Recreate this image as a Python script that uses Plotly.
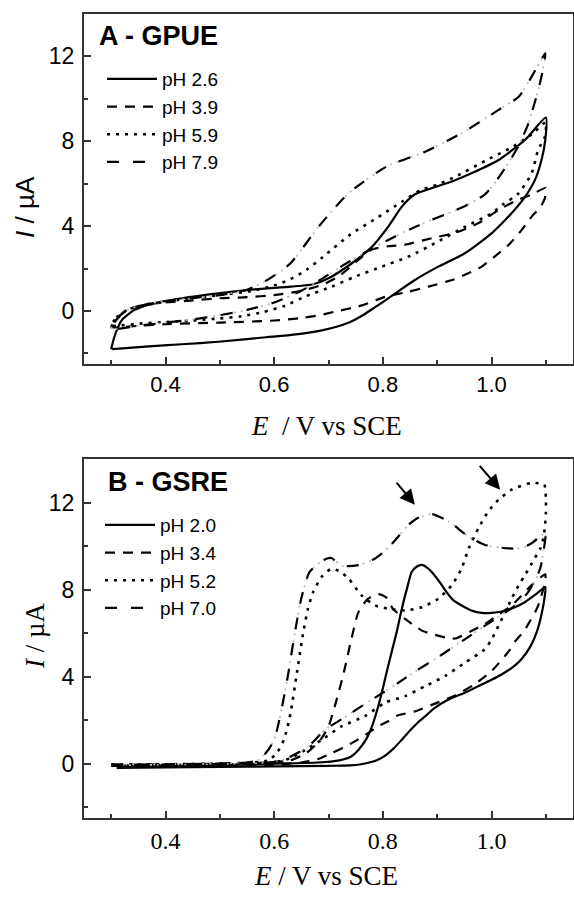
import plotly.graph_objects as go

# ---------------- Panel A - GPUE (E in V vs SCE, I in uA) ----------------
a_labels = ["pH 2.6", "pH 3.9", "pH 5.9", "pH 7.9"]

a26_E = [0.300, 0.305, 0.312, 0.320, 0.343, 0.377, 0.430, 0.497, 0.564, 0.631, 0.672, 0.700, 0.743, 0.780, 0.810, 0.835, 0.859, 0.890, 0.927, 0.964, 1.013, 1.062, 1.100,
         1.099, 1.092, 1.080, 1.062, 1.037, 1.000, 0.951, 0.902, 0.859, 0.823, 0.800, 0.780, 0.760, 0.740, 0.718, 0.690, 0.631, 0.564, 0.497, 0.430, 0.363, 0.302]
a26_I = [-1.80, -1.30, -0.80, -0.42, 0.05, 0.36, 0.60, 0.83, 1.02, 1.15, 1.26, 1.54, 2.25, 3.03, 3.98, 4.92, 5.50, 5.79, 6.10, 6.50, 7.12, 8.07, 9.12,
         8.07, 7.12, 6.18, 5.39, 4.61, 3.66, 2.72, 2.09, 1.46, 0.83, 0.42, 0.08, -0.25, -0.52, -0.72, -0.90, -1.13, -1.29, -1.45, -1.57, -1.68, -1.80]

a39_E = [0.300, 0.310, 0.325, 0.360, 0.400, 0.450, 0.500, 0.550, 0.600, 0.650, 0.690, 0.720, 0.750, 0.780, 0.810, 0.840, 0.890, 0.935, 0.976, 1.013, 1.045, 1.075, 1.100,
         1.098, 1.090, 1.074, 1.055, 1.031, 1.005, 0.982, 0.955, 0.930, 0.884, 0.846, 0.806, 0.760, 0.712, 0.685, 0.645, 0.600, 0.500, 0.400, 0.350, 0.310, 0.300]
a39_I = [-0.75, -0.40, 0.00, 0.30, 0.40, 0.50, 0.60, 0.65, 0.75, 0.95, 1.25, 1.65, 2.30, 2.90, 3.05, 3.12, 3.43, 3.70, 4.14, 4.76, 5.20, 5.50, 5.80,
         5.30, 4.90, 4.45, 3.80, 3.10, 2.55, 2.09, 1.75, 1.48, 1.15, 0.90, 0.68, 0.25, -0.03, -0.19, -0.35, -0.45, -0.55, -0.62, -0.70, -0.78, -0.75]

a59_E = [0.300, 0.310, 0.330, 0.370, 0.430, 0.500, 0.560, 0.600, 0.630, 0.660, 0.690, 0.740, 0.790, 0.835, 0.870, 0.900, 0.935, 0.990, 1.040, 1.075, 1.100,
         1.098, 1.086, 1.074, 1.050, 1.020, 1.000, 0.952, 0.900, 0.847, 0.798, 0.749, 0.706, 0.657, 0.620, 0.580, 0.540, 0.500, 0.450, 0.400, 0.350, 0.310, 0.300]
a59_I = [-0.70, -0.30, 0.05, 0.30, 0.55, 0.75, 0.95, 1.20, 1.50, 1.95, 2.55, 3.60, 4.40, 5.15, 5.70, 5.95, 6.35, 7.10, 7.75, 8.35, 8.90,
         8.20, 7.60, 6.50, 5.55, 5.00, 4.60, 3.98, 3.25, 2.56, 2.09, 1.62, 1.15, 0.68, 0.25, -0.05, -0.25, -0.35, -0.45, -0.52, -0.60, -0.70, -0.70]

a79_E = [0.300, 0.310, 0.330, 0.370, 0.430, 0.500, 0.550, 0.590, 0.630, 0.682, 0.737, 0.807, 0.878, 0.945, 1.013, 1.050, 1.074, 1.099,
         1.094, 1.086, 1.068, 1.050, 1.031, 1.005, 0.988, 0.963, 0.930, 0.890, 0.850, 0.810, 0.770, 0.730, 0.690, 0.650, 0.600, 0.550, 0.500, 0.450, 0.400, 0.350, 0.310, 0.300]
a79_I = [-0.85, -0.40, 0.05, 0.35, 0.55, 0.75, 1.00, 1.50, 2.25, 3.98, 5.55, 6.81, 7.51, 8.38, 9.48, 10.10, 11.05, 12.15,
         11.30, 10.42, 8.85, 7.80, 6.97, 6.00, 5.50, 5.10, 4.70, 4.30, 3.85, 3.35, 2.80, 2.20, 1.55, 0.95, 0.40, 0.05, -0.20, -0.40, -0.55, -0.70, -0.85, -0.85]

# ---------------- Panel B - GSRE ----------------
b_labels = ["pH 2.0", "pH 3.4", "pH 5.2", "pH 7.0"]

b20_E = [0.300, 0.400, 0.500, 0.600, 0.680, 0.720, 0.740, 0.755, 0.770, 0.780, 0.790, 0.798, 0.807, 0.816, 0.826, 0.835, 0.845, 0.853, 0.862, 0.872,
         0.882, 0.890, 0.906, 0.915, 0.930, 0.945, 0.965, 0.982, 1.000, 1.019, 1.040, 1.062, 1.080, 1.099,
         1.098, 1.092, 1.084, 1.072, 1.055, 1.040, 1.020, 1.000, 0.975, 0.950, 0.930, 0.910, 0.895, 0.880, 0.865, 0.850, 0.835, 0.820, 0.805, 0.790,
         0.775, 0.760, 0.740, 0.700, 0.600, 0.500, 0.400, 0.310]
b20_I = [-0.10, -0.08, -0.05, 0.00, 0.05, 0.15, 0.30, 0.63, 1.15, 1.71, 2.50, 3.26, 4.20, 5.11, 6.10, 7.12, 8.10, 8.81, 9.05, 9.13,
         9.00, 8.81, 8.30, 7.96, 7.50, 7.27, 7.02, 6.93, 6.93, 6.99, 7.15, 7.43, 7.75, 8.12,
         7.70, 6.85, 6.10, 5.40, 4.80, 4.45, 4.12, 3.85, 3.55, 3.25, 3.05, 2.80, 2.55, 2.22, 1.90, 1.52, 1.10, 0.70, 0.38, 0.17,
         0.05, -0.03, -0.08, -0.10, -0.13, -0.15, -0.18, -0.20]

b34_E = [0.300, 0.400, 0.500, 0.580, 0.630, 0.660, 0.685, 0.700, 0.715, 0.728, 0.742, 0.755, 0.772, 0.792, 0.806, 0.819, 0.841, 0.873, 0.915, 0.933,
         0.964, 0.988, 1.010, 1.037, 1.074, 1.099,
         1.098, 1.085, 1.072, 1.060, 1.043, 1.033, 1.000, 0.966, 0.930, 0.890, 0.859, 0.826, 0.810, 0.790, 0.770, 0.740, 0.706, 0.680, 0.650, 0.620,
         0.600, 0.500, 0.400, 0.310]
b34_I = [-0.05, -0.03, 0.00, 0.05, 0.15, 0.50, 1.09, 1.71, 2.94, 4.17, 5.71, 6.95, 7.56, 7.79, 7.64, 7.10, 6.65, 6.10, 5.80, 5.75,
         6.11, 6.42, 6.80, 7.27, 8.20, 8.70,
         8.30, 7.20, 6.60, 6.10, 5.60, 5.20, 4.25, 3.60, 3.10, 2.70, 2.40, 2.20, 1.95, 1.70, 1.35, 0.90, 0.48, 0.20, 0.05, -0.02,
         -0.05, -0.07, -0.09, -0.10]

b52_E = [0.300, 0.400, 0.500, 0.560, 0.590, 0.605, 0.618, 0.630, 0.642, 0.652, 0.662, 0.672, 0.688, 0.705, 0.720, 0.737, 0.761, 0.786, 0.810, 0.841,
         0.872, 0.902, 0.927, 0.945, 0.958, 0.976, 0.994, 1.013, 1.037, 1.074, 1.097, 1.100,
         1.100, 1.098, 1.095, 1.090, 1.074, 1.060, 1.050, 1.037, 1.020, 1.000, 0.988, 0.952, 0.915, 0.878, 0.841, 0.804, 0.767, 0.724, 0.688, 0.657,
         0.630, 0.600, 0.560, 0.500, 0.400, 0.310]
b52_I = [-0.05, -0.03, 0.00, 0.05, 0.15, 0.50, 1.10, 2.30, 4.20, 5.80, 7.10, 7.90, 8.60, 8.95, 8.85, 8.50, 7.73, 7.27, 7.12, 7.04,
         7.19, 7.58, 8.20, 8.97, 9.89, 10.82, 11.59, 12.13, 12.59, 12.90, 12.82, 12.20,
         11.50, 10.80, 10.30, 9.90, 9.20, 8.60, 8.20, 7.58, 6.70, 5.70, 5.26, 4.65, 4.03, 3.56, 3.10, 2.80, 2.18, 1.71, 1.10, 0.63,
         0.25, 0.05, -0.02, -0.05, -0.07, -0.10]

b70_E = [0.300, 0.400, 0.500, 0.550, 0.570, 0.585, 0.600, 0.612, 0.625, 0.638, 0.650, 0.665, 0.690, 0.705, 0.724, 0.755, 0.786, 0.805, 0.823, 0.847,
         0.866, 0.890, 0.921, 0.958, 0.988, 1.031, 1.055, 1.075, 1.099,
         1.096, 1.090, 1.080, 1.065, 1.040, 1.010, 0.988, 0.950, 0.920, 0.896, 0.860, 0.829, 0.795, 0.761, 0.728, 0.694, 0.663, 0.640, 0.620, 0.600,
         0.570, 0.500, 0.400, 0.310]
b70_I = [-0.05, -0.03, 0.00, 0.05, 0.15, 0.50, 1.09, 2.30, 4.00, 6.00, 7.60, 8.80, 9.35, 9.45, 9.10, 9.12, 9.43, 9.80, 10.28, 10.97,
         11.31, 11.47, 11.13, 10.43, 10.05, 9.89, 9.90, 10.15, 10.60,
         9.80, 9.00, 8.40, 7.80, 7.20, 6.70, 6.34, 5.70, 5.20, 4.80, 4.25, 3.72, 3.18, 2.64, 2.10, 1.56, 0.79, 0.45, 0.20, 0.08,
         0.02, -0.02, -0.05, -0.08]

# arrows in panel B: (tail E, tail I, head E, head I)
arrow_tail_E = [0.823, 0.976]
arrow_tail_I = [12.98, 13.75]
arrow_head_E = [0.859, 1.016]
arrow_head_I = [11.90, 12.59]

W, H = 574, 897


def py(p):
    return 1 - p / H


def pxx(p):
    return p / W


SANS = "Liberation Sans, Arial, sans-serif"
SERIF = "Liberation Serif, Times New Roman, serif"

dash_styles = ["solid", "10px,8px", "3px,6px", "12px,14px"]
widths = [2.2, 2.2, 2.6, 2.2]

fig = go.Figure()

panels = [
    ("x", "y", "legend", a_labels, [(a26_E, a26_I), (a39_E, a39_I), (a59_E, a59_I), (a79_E, a79_I)]),
    ("x2", "y2", "legend2", b_labels, [(b20_E, b20_I), (b34_E, b34_I), (b52_E, b52_I), (b70_E, b70_I)]),
]

for xa, ya, leg, labels, series in panels:
    for k, (E, I) in enumerate(series):
        assert len(E) == len(I), (labels[k], len(E), len(I))
        if k == 3:
            # faint dots of the dash-dot-dot pattern
            fig.add_trace(go.Scatter(x=E, y=I, xaxis=xa, yaxis=ya, mode="lines",
                                     line=dict(color="#b5b5b5", width=1.6, dash="2px,5px",
                                               shape="spline", smoothing=0.6),
                                     showlegend=False, hoverinfo="skip"))
        fig.add_trace(go.Scatter(x=E, y=I, xaxis=xa, yaxis=ya, mode="lines", name=labels[k],
                                 legend=leg,
                                 line=dict(color="black", width=widths[k], dash=dash_styles[k],
                                           shape="spline", smoothing=0.6)))

axis_common = dict(showline=True, mirror=True, linecolor="#333333", linewidth=2,
                   showgrid=False, zeroline=False, ticks="inside", tickcolor="#333333",
                   tickwidth=1.5, ticklen=7)

xcommon = dict(axis_common, range=[0.25, 1.15], tick0=0, dtick=0.2, tickformat=".1f",
               minor=dict(ticks="inside", dtick=0.1, ticklen=4, tickwidth=1.5, tickcolor="#333333"),
               domain=[84 / W, 573 / W], ticklabelstandoff=0)
ycommon = dict(axis_common, range=[-2.5, 14], tick0=0, dtick=4,
               minor=dict(ticks="inside", dtick=2, ticklen=4, tickwidth=1.5, tickcolor="#333333"),
               ticklabelstandoff=3, tickfont=dict(family=SANS, size=23, color="black"))

fig.update_layout(
    width=W, height=H, margin=dict(l=0, r=0, t=0, b=0),
    paper_bgcolor="white", plot_bgcolor="white",
    xaxis=dict(xcommon, anchor="y", tickfont=dict(family=SANS, size=22, color="black")),
    yaxis=dict(ycommon, anchor="x", domain=[py(364), py(14)]),
    xaxis2=dict(xcommon, anchor="y2", tickfont=dict(family=SERIF, size=24, color="black")),
    yaxis2=dict(ycommon, anchor="x2", domain=[py(818), py(459)]),
    legend=dict(x=pxx(102), y=py(60), xanchor="left", yanchor="top", bgcolor="rgba(0,0,0,0)",
                font=dict(family=SANS, size=19, color="black"), itemwidth=50, tracegroupgap=0),
    legend2=dict(x=pxx(100), y=py(506), xanchor="left", yanchor="top", bgcolor="rgba(0,0,0,0)",
                 font=dict(family=SANS, size=19, color="black"), itemwidth=50, tracegroupgap=0),
    showlegend=True,
)

annotations = [
    dict(text="<b>A - GPUE</b>", x=pxx(97), y=py(36), xref="paper", yref="paper", xanchor="left", yanchor="middle",
         showarrow=False, font=dict(family=SANS, size=27, color="black")),
    dict(text="<b>B - GSRE</b>", x=pxx(106), y=py(482), xref="paper", yref="paper", xanchor="left", yanchor="middle",
         showarrow=False, font=dict(family=SANS, size=27, color="black")),
    dict(text="<i>E</i>\u00a0\u00a0/ V vs SCE", x=pxx(326), y=py(426), xref="paper", yref="paper",
         xanchor="center", yanchor="middle", showarrow=False, font=dict(family=SERIF, size=27, color="black")),
    dict(text="<i>E</i> / V vs SCE", x=pxx(326), y=py(876), xref="paper", yref="paper",
         xanchor="center", yanchor="middle", showarrow=False, font=dict(family=SERIF, size=27, color="black")),
    dict(text="<i>I</i> / µA", x=pxx(25), y=py(207), xref="paper", yref="paper", textangle=-90,
         xanchor="center", yanchor="middle", showarrow=False, font=dict(family=SANS, size=26, color="black")),
    dict(text="<i>I</i> / µA", x=pxx(35), y=py(636), xref="paper", yref="paper", textangle=-90,
         xanchor="center", yanchor="middle", showarrow=False, font=dict(family=SERIF, size=27, color="black")),
]
for te, ti, he, hi in zip(arrow_tail_E, arrow_tail_I, arrow_head_E, arrow_head_I):
    annotations.append(dict(text="", x=he, y=hi, xref="x2", yref="y2", ax=te, ay=ti, axref="x2", ayref="y2",
                            showarrow=True, arrowhead=2, arrowsize=1.5, arrowwidth=2, arrowcolor="black"))
fig.update_layout(annotations=annotations)

fig.write_html("out.html")
